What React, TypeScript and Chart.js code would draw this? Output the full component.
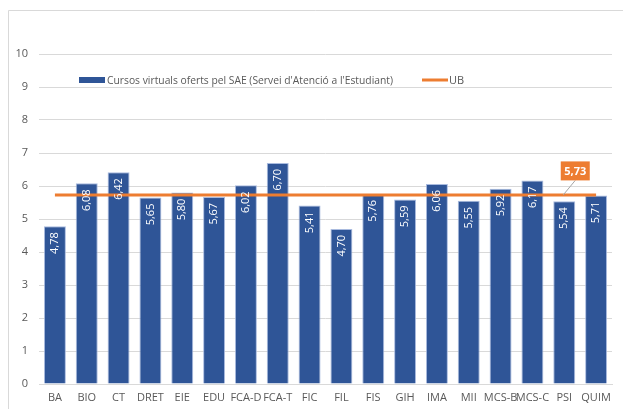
import React, { useEffect, useRef } from "react";
import { Chart, registerables } from "chart.js";

Chart.register(...registerables);

const categories = ["BA", "BIO", "CT", "DRET", "EIE", "EDU", "FCA-D", "FCA-T", "FIC", "FIL", "FIS", "GIH", "IMA", "MII", "MCS-B", "MCS-C", "PSI", "QUIM"];
const courseValues = [4.78, 6.08, 6.42, 5.65, 5.80, 5.67, 6.02, 6.70, 5.41, 4.70, 5.76, 5.59, 6.06, 5.55, 5.92, 6.17, 5.54, 5.71];
const ubValue = 5.73;
const ubValues = categories.map(() => ubValue);
const barLabel = "Cursos virtuals oferts pel SAE (Servei d'Atenció a l'Estudiant)";
const lineLabel = "UB";
const ubLabelIndex = 16;

const BLUE = "#2F5597";
const ORANGE = "#ED7D31";
const GREY_TEXT = "#595959";
const GRID = "#D9D9D9";
const FONT = "'Liberation Sans Narrow', 'Open Sans', 'Noto Sans', sans-serif";

const fmt = (v: number) => v.toFixed(2).replace(".", ",");

const decorPlugin = {
  id: "decor",
  beforeDraw(chart: any) {
    const ctx = chart.ctx;
    ctx.save();
    ctx.fillStyle = "#fff";
    ctx.fillRect(0, 0, chart.width, chart.height);
    ctx.strokeStyle = GRID;
    ctx.lineWidth = 1;
    ctx.beginPath();
    ctx.moveTo(8.5, chart.height);
    ctx.lineTo(8.5, 10.5);
    ctx.lineTo(chart.width, 10.5);
    ctx.stroke();
    ctx.restore();
  },
  afterDatasetsDraw(chart: any) {
    const ctx = chart.ctx;
    ctx.save();
    // bar value labels
    const barMeta = chart.getDatasetMeta(0);
    ctx.fillStyle = "#ffffff";
    ctx.font = `11px 'Open Sans', 'Noto Sans', sans-serif`;
    barMeta.data.forEach((bar: any, i: number) => {
      ctx.save();
      ctx.translate(bar.x, bar.y + 6);
      ctx.rotate(-Math.PI / 2);
      ctx.textAlign = "right";
      ctx.textBaseline = "middle";
      ctx.fillText(fmt(courseValues[i]), 0, 0);
      ctx.restore();
    });
    // UB callout label
    const lineMeta = chart.getDatasetMeta(1);
    const pt = lineMeta.data[ubLabelIndex];
    if (pt) {
      const bx = pt.x + 11;
      const by = pt.y - 24;
      const w = 29, h = 19;
      ctx.strokeStyle = "#A6A6A6";
      ctx.lineWidth = 1;
      ctx.beginPath();
      ctx.moveTo(pt.x - 1, pt.y);
      ctx.lineTo(bx, by + h / 2);
      ctx.stroke();
      ctx.fillStyle = ORANGE;
      ctx.fillRect(bx - w / 2, by - h / 2, w, h);
      ctx.fillStyle = "#fff";
      ctx.font = `bold 11px 'Open Sans', 'Noto Sans', sans-serif`;
      ctx.textAlign = "center";
      ctx.textBaseline = "middle";
      ctx.fillText(fmt(ubValue), bx, by + 1);
    }
    // legend
    ctx.fillStyle = BLUE;
    ctx.fillRect(79, 77, 26, 6);
    ctx.fillStyle = GREY_TEXT;
    ctx.font = `11px 'Open Sans', 'Noto Sans', sans-serif`;
    ctx.textAlign = "left";
    ctx.textBaseline = "middle";
    ctx.fillText(barLabel, 107, 80.5, 286);
    ctx.strokeStyle = ORANGE;
    ctx.lineWidth = 3;
    ctx.beginPath();
    ctx.moveTo(422, 80);
    ctx.lineTo(448, 80);
    ctx.stroke();
    ctx.fillText(lineLabel, 449, 80.5);
    ctx.restore();
  },
};

export default function App() {
  const ref = useRef<HTMLCanvasElement>(null);
  useEffect(() => {
    if (!ref.current) return;
    const chart = new Chart(ref.current, {
      type: "bar",
      data: {
        labels: categories,
        datasets: [
          {
            type: "bar",
            label: barLabel,
            data: courseValues,
            backgroundColor: BLUE,
            borderColor: "rgba(160,180,220,0.9)",
            borderWidth: 1,
            categoryPercentage: 1,
            barPercentage: 0.69,
            order: 2,
          },
          {
            type: "line",
            label: lineLabel,
            data: ubValues,
            borderColor: ORANGE,
            backgroundColor: ORANGE,
            borderWidth: 3,
            pointRadius: 0,
            order: 1,
          } as any,
        ],
      },
      options: {
        animation: false,
        responsive: false,
        maintainAspectRatio: false,
        layout: { padding: { left: 0, right: 11, top: 54, bottom: 0 } },
        plugins: { legend: { display: false }, tooltip: { enabled: false } },
        scales: {
          x: {
            grid: { display: false, drawTicks: false },
            border: { color: GRID },
            ticks: {
              color: GREY_TEXT,
              font: { size: 11, family: "'Open Sans', 'Noto Sans', sans-serif" },
              autoSkip: false,
              maxRotation: 0,
              minRotation: 0,
              padding: 7,
            },
            afterFit(scale: any) {
              scale.height = 25;
            },
          },
          y: {
            min: 0,
            max: 10,
            grid: { color: GRID, drawTicks: false },
            border: { display: false },
            ticks: {
              stepSize: 1,
              color: GREY_TEXT,
              font: { size: 11, family: "'Open Sans', 'Noto Sans', sans-serif" },
              padding: 11,
            },
            afterFit(scale: any) {
              scale.width = 39;
            },
          },
        },
      },
      plugins: [decorPlugin],
    });
    return () => chart.destroy();
  }, []);
  return (
    <div style={{ position: "fixed", left: 0, top: 0, width: 623, height: 409, background: "#fff" }}>
      <canvas ref={ref} width={623} height={409} style={{ display: "block", width: 623, height: 409 }} />
    </div>
  );
}
